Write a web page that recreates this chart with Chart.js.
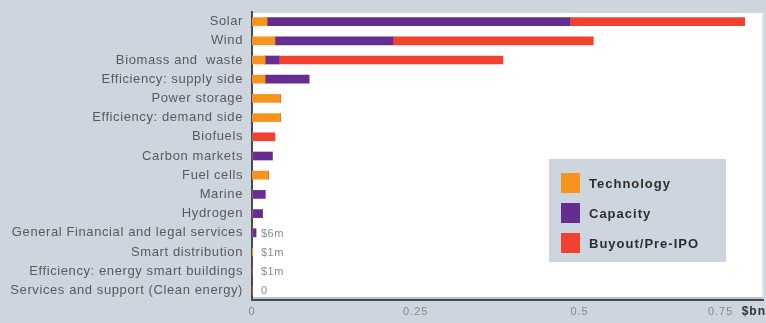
<!DOCTYPE html>
<html>
<head>
<meta charset="utf-8">
<script src="https://cdn.jsdelivr.net/npm/chart.js@4/dist/chart.umd.min.js"></script>
<style>
  html, body { margin: 0; padding: 0; background: #cdd5df; }
  #wrap { width: 766px; height: 323px; position: relative; }
</style>
</head>
<body>
<div id="wrap"><canvas id="deals"></canvas></div>
<script>
var categories = [
  "Solar", "Wind", "Biomass and  waste", "Efficiency: supply side", "Power storage",
  "Efficiency: demand side", "Biofuels", "Carbon markets", "Fuel cells", "Marine",
  "Hydrogen", "General Financial and legal services", "Smart distribution",
  "Efficiency: energy smart buildings", "Services and support (Clean energy)"
];
// $bn
var technology = [0.023, 0.035, 0.02, 0.02, 0.043, 0.043, 0, 0, 0.025, 0, 0, 0, 0.001, 0, 0];
var capacity   = [0.462, 0.18, 0.021, 0.067, 0, 0, 0, 0.031, 0, 0.02, 0.016, 0.006, 0, 0.001, 0];
var buyout     = [0.267, 0.306, 0.342, 0, 0, 0, 0.035, 0, 0, 0, 0, 0, 0, 0, 0];
var smallNotes = ["", "", "", "", "", "", "", "", "", "", "", "$6m", "$1m", "$1m", "0"];
var xTicks = [0, 0.25, 0.5, 0.75];

var extras = {
  id: "extras",
  beforeDraw: function (chart) {
    var c = chart.ctx, a = chart.chartArea;
    c.fillStyle = "#ffffff";
    c.fillRect(a.left, a.top + 1, a.right - a.left, a.bottom - a.top);
    c.fillStyle = "#dfe3ea";
    c.fillRect(a.right - 1, a.top, 2, a.bottom - a.top);
    c.fillStyle = "#bfc3c8";
    c.fillRect(a.left, a.bottom - 3, a.right - a.left, 2);
    // slightly wider type, like the original
    c.letterSpacing = "0.6px";
  },
  afterDraw: function (chart) {
    var c = chart.ctx;
    var x = chart.scales.x, y = chart.scales.y;
    c.save();
    c.letterSpacing = "1px";
    // x tick labels
    c.font = "11px 'Liberation Sans', Arial, sans-serif";
    c.fillStyle = "#888888";
    c.textBaseline = "middle";
    xTicks.forEach(function (v, i) {
      var px = x.getPixelForValue(v);
      if (i === xTicks.length - 1) {
        c.textAlign = "right";
        px -= 10;
      } else {
        c.textAlign = "center";
      }
      c.fillText(String(v), px, 312);
    });
    c.font = "bold 12px 'Liberation Sans', Arial, sans-serif";
    c.fillStyle = "#333333";
    c.textAlign = "right";
    c.fillText("$bn", 766, 312);

    // small value notes
    c.letterSpacing = "0.5px";
    c.font = "11px 'Liberation Sans', Arial, sans-serif";
    c.fillStyle = "#8a8a8a";
    c.textAlign = "left";
    smallNotes.forEach(function (t, i) {
      if (!t) return;
      var total = technology[i] + capacity[i] + buyout[i];
      var px = Math.max(x.getPixelForValue(total) + 4, x.getPixelForValue(0) + 9);
      c.fillText(t, px, y.getPixelForValue(i) + 1);
    });

    // legend box
    var lx = 549, ly = 159, lw = 177, lh = 103;
    c.fillStyle = "#cdd5df";
    c.fillRect(lx, ly, lw, lh);
    c.letterSpacing = "1px";
    c.font = "bold 13px 'Liberation Sans', Arial, sans-serif";
    chart.data.datasets.forEach(function (ds, i) {
      var iy = ly + 24 + i * 30;
      c.fillStyle = ds.backgroundColor;
      c.fillRect(lx + 12, iy - 10, 19, 20);
      c.fillStyle = "#2e2e2e";
      c.fillText(ds.label, lx + 40, iy + 1);
    });
    c.restore();
  }
};

new Chart(document.getElementById("deals"), {
  type: "bar",
  data: {
    labels: categories,
    datasets: [
      { label: "Technology", data: technology, backgroundColor: "#f7941d" },
      { label: "Capacity", data: capacity, backgroundColor: "#662d91" },
      { label: "Buyout/Pre-IPO", data: buyout, backgroundColor: "#f04131" }
    ]
  },
  options: {
    indexAxis: "y",
    responsive: true,
    maintainAspectRatio: false,
    animation: false,
    barThickness: 8,
    layout: { padding: { top: 12, right: 3, left: 0, bottom: 0 } },
    plugins: { legend: { display: false }, tooltip: { enabled: false } },
    scales: {
      x: {
        stacked: true,
        min: 0,
        max: 0.78,
        grid: { display: false, drawTicks: false },
        border: { display: true, color: "#4a4a4a", width: 2 },
        ticks: { display: false },
        afterFit: function (s) { s.height = 23; s.paddingLeft = 0; s.paddingRight = 0; }
      },
      y: {
        stacked: true,
        grid: { display: false, drawTicks: false },
        border: { display: true, color: "#4a4a4a", width: 2 },
        ticks: {
          color: "#5a5a5a",
          padding: 9,
          autoSkip: false,
          font: { family: "'Liberation Sans', Arial, sans-serif", size: 13 }
        },
        afterFit: function (s) { s.width = 252; s.paddingTop = 0; s.paddingBottom = 0; }
      }
    }
  },
  plugins: [extras]
});
</script>
</body>
</html>
